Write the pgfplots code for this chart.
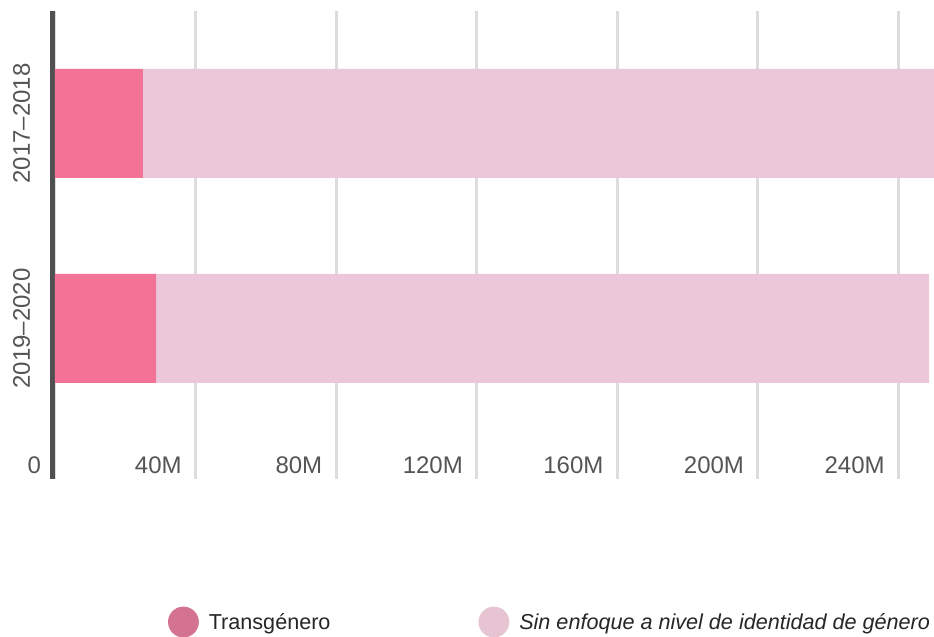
\documentclass[border=0pt]{standalone}
\usepackage{pgfplots}
\pgfplotsset{compat=1.18}
\usepackage{fontspec}
\setmainfont{Liberation Sans}
\definecolor{transC}{HTML}{F27396}
\definecolor{sinC}{HTML}{ECC7D9}
\definecolor{legA}{HTML}{D4738F}
\definecolor{legB}{HTML}{E6C4D2}
\definecolor{gridC}{HTML}{DDDDDD}
\definecolor{axC}{HTML}{505050}
\definecolor{tickC}{HTML}{555555}
\begin{document}
\begin{tikzpicture}
\path[use as bounding box] (0,0) rectangle (467pt,318.5pt);
\begin{axis}[
  at={(27.45pt,79pt)}, anchor=south west,
  scale only axis, width=439.55pt, height=234pt,
  xbar stacked, bar width=54.5pt,
  xmin=0, xmax=250.1, ymin=0, ymax=468,
  xtick={0,40,80,120,160,200,240},
  xticklabels={0,40M,80M,120M,160M,200M,240M},
  ytick={150.5,355.5},
  yticklabels={2019–2020,2017–2018},
  xmajorgrids, grid style={color=gridC, line width=1.5pt},
  major tick length=0pt,
  x axis line style={draw=none},
  y axis line style={draw=axC, line width=2.5pt, xshift=-1.2pt},
  axis x line*=bottom, axis y line*=left,
  tick label style={font=\fontsize{12}{14}\selectfont, text=tickC},
  xticklabel style={anchor=base east, inner sep=0pt, xshift=-6.75pt, yshift=2.75pt},
  yticklabel style={rotate=90, anchor=base, inner sep=0pt},
  yticklabel shift=12.5pt,
  /pgf/number format/assume math mode=true,
  legend columns=2,
  legend style={draw=none, fill=none, inner sep=0pt, outer sep=0pt,
    at={(0.1287,-0.3056)}, anchor=west,
    font=\fontsize{10.8}{13}\selectfont, text=black!85,
    nodes={inner sep=0pt},
    /tikz/every odd column/.append style={column sep=5pt},
    /tikz/every even column/.append style={column sep=74pt}},
]
\addplot[fill=transC, draw=none, forget plot] coordinates {(25,355.5) (28.8,150.5)};
\addplot[fill=sinC, draw=none, forget plot] coordinates {(227,355.5) (219.9,150.5)};
\addlegendimage{legend image code/.code={\fill[legA] (7.5pt,0.3pt) circle (7.5pt);}}
\addlegendentry{Transgénero}
\addlegendimage{legend image code/.code={\fill[legB] (7.5pt,0.3pt) circle (7.5pt);}}
\addlegendentry{\itshape Sin enfoque a nivel de identidad de género}
\end{axis}
\end{tikzpicture}
\end{document}
